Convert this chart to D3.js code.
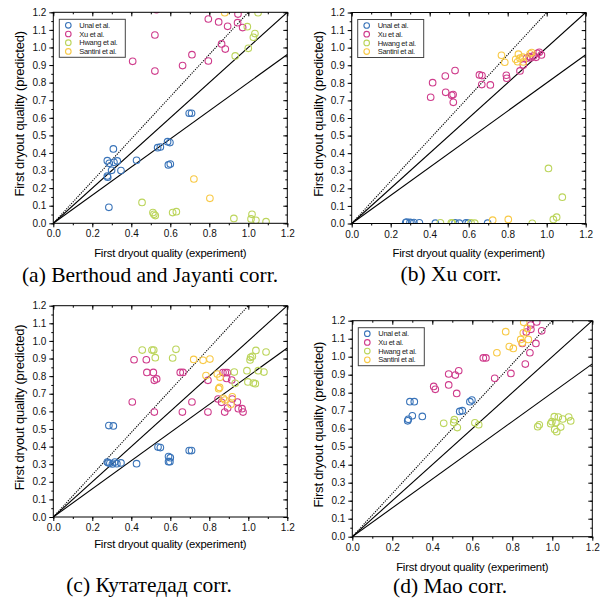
<!DOCTYPE html>
<html>
<head>
<meta charset="utf-8">
<script src="https://cdn.jsdelivr.net/npm/d3@7/dist/d3.min.js"></script>
<style>
  body { margin: 0; background: #fff; }
  svg { display: block; }
</style>
</head>
<body>
<svg id="chart" width="605" height="598"></svg>
<script>
// series names and colours
var seriesNames = ["Unal et al.", "Xu et al.", "Hwang et al.", "Santini et al."];
var seriesColors = ["#3a74b9", "#cf3c8c", "#bcd55c", "#f8c945"];

// x ticks / y ticks
var xTicks = [0, 0.2, 0.4, 0.6, 0.8, 1.0, 1.2];
var yTicks = [0, 0.1, 0.2, 0.3, 0.4, 0.5, 0.6, 0.7, 0.8, 0.9, 1.0, 1.1, 1.2];

// reference lines: slope of y = k*x
var solidSlopes = [1.0, 0.8];
var dottedSlopes = [1.2];

// (a) Berthoud and Jayanti
var unalA = [[0.277,0.356],[0.308,0.423],[0.287,0.341],[0.277,0.269],[0.279,0.262],[0.299,0.301],[0.311,0.347],[0.328,0.355],[0.347,0.300],[0.427,0.358],[0.285,0.091],[0.535,0.430],[0.549,0.434],[0.586,0.464],[0.598,0.459],[0.590,0.332],[0.600,0.337],[0.697,0.626],[0.709,0.626]];
var xuA = [[0.407,0.921],[0.521,1.071],[0.521,0.866],[0.530,1.215],[0.663,0.897],[0.711,0.959],[0.795,1.162],[0.795,0.923],[0.848,1.145],[0.863,1.020],[0.882,0.991],[0.894,1.120],[0.945,1.141],[0.947,1.190],[0.971,1.113]];
var hwangA = [[0.455,0.119],[0.511,0.061],[0.516,0.051],[0.523,0.044],[0.612,0.061],[0.631,0.066],[0.926,0.028],[0.933,0.952],[0.995,1.118],[1.000,0.995],[1.019,0.051],[1.014,0.025],[1.026,1.058],[1.034,1.079],[1.039,0.017],[1.050,1.198],[1.091,0.009]];
var santiniA = [[0.879,1.198],[0.721,0.252],[0.803,0.142]];

// (b) Xu
var unalB = [[0.277,0.005],[0.282,0.008],[0.299,0.006],[0.308,0.004],[0.319,0.005],[0.347,0.004],[0.429,0.002],[0.530,0.003],[0.552,0.002],[0.586,0.003],[0.598,0.002],[0.697,0.002]];
var xuB = [[0.405,0.718],[0.415,0.801],[0.480,0.839],[0.482,0.746],[0.513,0.729],[0.521,0.689],[0.520,0.733],[0.530,0.870],[0.655,0.845],[0.668,0.841],[0.667,0.790],[0.711,0.788],[0.793,0.843],[0.795,0.826],[0.863,0.868],[0.880,0.902],[0.897,0.940],[0.911,0.949],[0.918,0.942],[0.932,0.953],[0.945,0.945],[0.952,0.968],[0.962,0.974],[0.973,0.959]];
var hwangB = [[0.455,0.004],[0.511,0.004],[0.516,0.002],[0.612,0.003],[0.631,0.002],[0.926,0.001],[1.009,0.313],[1.080,0.150],[1.051,0.036],[1.034,0.023]];
var santiniB = [[0.768,0.957],[0.785,0.917],[0.841,0.934],[0.855,0.963],[0.851,0.920],[0.863,0.940],[0.877,0.946],[0.880,0.919],[0.915,0.965],[0.923,0.972],[0.723,0.019],[0.803,0.023]];

// (c) Kutateladze
var unalC = [[0.277,0.312],[0.282,0.308],[0.285,0.519],[0.308,0.517],[0.290,0.305],[0.303,0.301],[0.316,0.312],[0.326,0.303],[0.347,0.307],[0.427,0.303],[0.537,0.397],[0.549,0.394],[0.591,0.343],[0.591,0.314],[0.600,0.337],[0.598,0.314],[0.697,0.377],[0.709,0.377]];
var xuC = [[0.405,0.653],[0.414,0.893],[0.477,0.893],[0.480,0.821],[0.513,0.821],[0.518,0.776],[0.530,0.784],[0.518,0.596],[0.651,0.821],[0.665,0.821],[0.662,0.596],[0.711,0.653],[0.793,0.776],[0.793,0.596],[0.845,0.670],[0.863,0.651],[0.870,0.820],[0.882,0.820],[0.892,0.820],[0.889,0.787],[0.879,0.596],[0.894,0.619],[0.915,0.778],[0.918,0.670],[0.944,0.653],[0.949,0.615],[0.968,0.615],[0.973,0.596]];
var hwangC = [[0.456,0.948],[0.506,0.948],[0.515,0.948],[0.523,0.905],[0.629,0.952],[0.612,0.903],[0.928,0.823],[0.933,0.759],[0.993,0.831],[0.998,0.767],[1.009,0.892],[1.012,0.907],[1.021,0.912],[1.026,0.761],[1.036,0.757],[1.039,0.946],[1.051,0.831],[1.080,0.823],[1.091,0.937]];
var santiniC = [[0.720,0.895],[0.768,0.890],[0.803,0.897],[0.783,0.803],[0.841,0.812],[0.855,0.793],[0.848,0.729],[0.853,0.736],[0.872,0.674],[0.880,0.664],[0.911,0.640],[0.918,0.683]];

// (d) Mao
var unalD = [[0.277,0.644],[0.280,0.652],[0.288,0.750],[0.310,0.750],[0.300,0.672],[0.350,0.668],[0.537,0.696],[0.550,0.700],[0.588,0.750],[0.598,0.759]];
var xuD = [[0.407,0.835],[0.415,0.819],[0.482,0.904],[0.482,0.843],[0.515,0.898],[0.532,0.922],[0.522,0.796],[0.655,0.993],[0.668,0.993],[0.712,0.880],[0.793,0.907],[0.850,1.074],[0.865,0.959],[0.870,1.137],[0.888,1.022],[0.892,1.176],[0.893,1.152],[0.918,1.074],[0.922,1.193],[0.947,1.144]];
var hwangD = [[0.457,0.630],[0.510,0.650],[0.507,0.635],[0.525,0.606],[0.613,0.633],[0.632,0.622],[0.927,0.611],[0.935,0.622],[0.992,0.628],[0.998,0.639],[1.010,0.667],[1.018,0.633],[1.012,0.596],[1.022,0.583],[1.030,0.665],[1.042,0.609],[1.052,0.654],[1.082,0.665],[1.092,0.643]];
var santiniD = [[0.857,1.191],[0.767,1.139],[0.723,1.022],[0.785,1.056],[0.805,1.046],[0.842,1.096],[0.855,1.133],[0.850,1.078],[0.875,1.157],[0.880,1.096]];

var captions = ["(a) Berthoud and Jayanti corr.", "(b) Xu corr.", "(c) Кутатедад corr.", "(d) Mao corr."];
var xTitle = "First dryout quality (experiment)";
var yTitle = "First dryout quality (predicted)";

// layout of the four panels
var panels = [
  { left: 53.3, top: 12.3, w: 234, h: 211, series: [unalA, xuA, hwangA, santiniA], legend: true, capX: 150, capY: 282, xtY: 257 },
  { left: 351.7, top: 12.5, w: 234, h: 211, series: [unalB, xuB, hwangB, santiniB], legend: true, capX: 451, capY: 281, xtY: 257 },
  { left: 53.3, top: 305.7, w: 234, h: 211.3, series: [unalC, xuC, hwangC, santiniC], legend: false, capX: 149, capY: 592, xtY: 548 },
  { left: 352.3, top: 320.7, w: 240, h: 216, series: [unalD, xuD, hwangD, santiniD], legend: true, capX: 450, capY: 593, xtY: 571 }
];

var svg = d3.select("#chart");
var sans = "'Liberation Sans', Arial, sans-serif";

panels.forEach(function (p, i) {
  var x = d3.scaleLinear().domain([0, 1.2]).range([0, p.w]);
  var y = d3.scaleLinear().domain([0, 1.2]).range([p.h, 0]);

  var g = svg.append("g").attr("transform", "translate(" + p.left + "," + p.top + ")");

  g.append("clipPath").attr("id", "clip" + i)
    .append("rect").attr("width", p.w).attr("height", p.h);

  // axes, minor + major ticks, mirrored on top/right
  var xMinor = d3.range(0, 1.21, 0.1);
  var yMinor = d3.range(0, 1.21, 0.05);

  g.append("g").attr("transform", "translate(0," + p.h + ")")
    .call(d3.axisBottom(x).tickValues(xMinor).tickSize(2).tickFormat(""));
  g.append("g").attr("transform", "translate(0," + p.h + ")")
    .call(d3.axisBottom(x).tickValues(xTicks).tickSize(4).tickPadding(3).tickFormat(d3.format(".1f")));
  g.append("g").call(d3.axisTop(x).tickValues(xMinor).tickSize(-2).tickFormat(""));
  g.append("g").call(d3.axisTop(x).tickValues(xTicks).tickSize(-4).tickFormat(""));

  g.append("g").call(d3.axisLeft(y).tickValues(yMinor).tickSize(2).tickFormat(""));
  g.append("g").call(d3.axisLeft(y).tickValues(yTicks).tickSize(4).tickPadding(3).tickFormat(d3.format(".1f")));
  g.append("g").attr("transform", "translate(" + p.w + ",0)")
    .call(d3.axisRight(y).tickValues(yMinor).tickSize(-2).tickFormat(""));
  g.append("g").attr("transform", "translate(" + p.w + ",0)")
    .call(d3.axisRight(y).tickValues(yTicks).tickSize(-4).tickFormat(""));

  g.selectAll(".domain").remove();
  g.selectAll(".tick line").attr("stroke", "#000");
  g.selectAll(".tick text").attr("font-size", 10).attr("fill", "#111").attr("font-family", sans);

  // reference lines
  var lines = g.append("g").attr("clip-path", "url(#clip" + i + ")");
  solidSlopes.forEach(function (k) {
    lines.append("line").attr("x1", x(0)).attr("y1", y(0)).attr("x2", x(1.2)).attr("y2", y(1.2 * k))
      .attr("stroke", "#000").attr("stroke-width", 1.1);
  });
  dottedSlopes.forEach(function (k) {
    lines.append("line").attr("x1", x(0)).attr("y1", y(0)).attr("x2", x(1.2)).attr("y2", y(1.2 * k))
      .attr("stroke", "#000").attr("stroke-width", 1.1).attr("stroke-dasharray", "1.2,1.2");
  });

  // points
  var pts = g.append("g").attr("clip-path", "url(#clip" + i + ")");
  p.series.forEach(function (s, j) {
    pts.selectAll(".s" + j).data(s).enter().append("circle")
      .attr("cx", function (d) { return x(d[0]); })
      .attr("cy", function (d) { return y(d[1]); })
      .attr("r", 3.3)
      .attr("fill", "none")
      .attr("stroke", seriesColors[j])
      .attr("stroke-width", 1.1);
  });

  // frame
  g.append("rect").attr("width", p.w).attr("height", p.h)
    .attr("fill", "none").attr("stroke", "#000").attr("stroke-width", 1);

  // legend
  if (p.legend) {
    var lg = g.append("g").attr("transform", "translate(6,7)");
    lg.append("rect").attr("width", 66).attr("height", 38)
      .attr("fill", "#fff").attr("stroke", "#444").attr("stroke-width", 1);
    seriesNames.forEach(function (n, j) {
      var ry = 6 + j * 8.7;
      lg.append("circle").attr("cx", 9).attr("cy", ry).attr("r", 2.8)
        .attr("fill", "none").attr("stroke", seriesColors[j]).attr("stroke-width", 1.1);
      lg.append("text").attr("x", 20).attr("y", ry + 2.6).text(n)
        .attr("font-family", sans).attr("font-size", 7.5).attr("letter-spacing", -0.3).attr("fill", "#222");
    });
  }

  // axis titles
  svg.append("text").attr("x", p.left + p.w / 2).attr("y", p.xtY)
    .attr("text-anchor", "middle").attr("font-family", sans).attr("font-size", 11.3)
    .attr("letter-spacing", -0.2).text(xTitle);
  svg.append("text")
    .attr("transform", "translate(" + (p.left - 29) + "," + (p.top + p.h / 2 - 4) + ") rotate(-90)")
    .attr("text-anchor", "middle").attr("font-family", sans).attr("font-size", 13)
    .attr("letter-spacing", -0.2).text(yTitle);

  // caption
  svg.append("text").attr("x", p.capX).attr("y", p.capY)
    .attr("text-anchor", "middle").attr("font-family", "'Liberation Serif', 'Times New Roman', serif")
    .attr("font-size", 21.5).text(captions[i]);
});
</script>
</body>
</html>
